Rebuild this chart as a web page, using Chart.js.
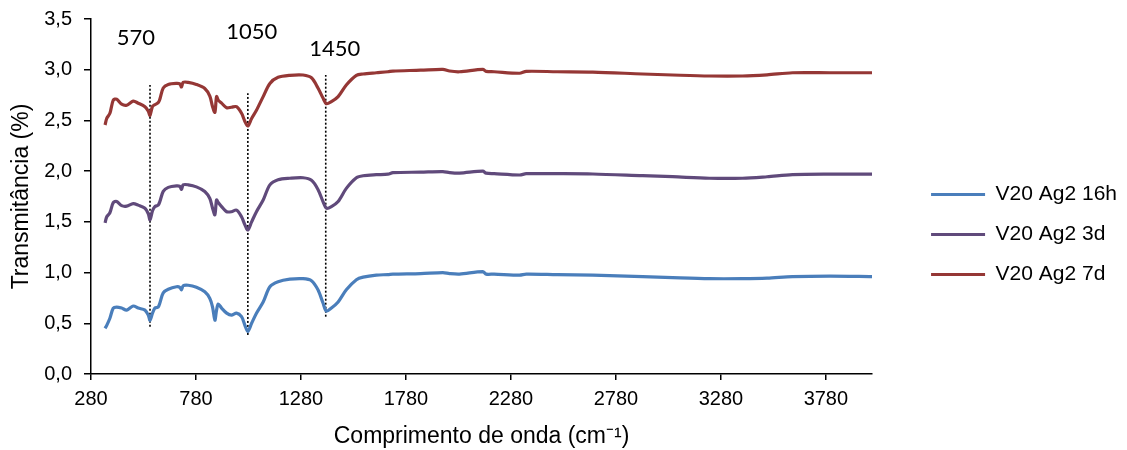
<!DOCTYPE html>
<html>
<head>
<meta charset="utf-8">
<script src="https://cdn.jsdelivr.net/npm/chart.js@4/dist/chart.umd.min.js"></script>
<style>
  body { margin: 0; background: #fff; }
  #wrap { width: 1127px; height: 450px; }
</style>
</head>
<body>
<div id="wrap"><canvas id="ftirChart" width="1127" height="450"></canvas></div>
<script>
// wavenumber (cm-1) shared by the three spectra
const wavenumbers = [347, 355, 370, 386, 402, 426, 450, 481, 505, 537, 553, 561, 573, 584, 600, 608, 624, 648, 687, 703, 711, 719, 743, 782, 822, 846, 859, 870, 878, 886, 902, 926, 949, 973, 997, 1013, 1027, 1045, 1068, 1100, 1132, 1171, 1227, 1290, 1330, 1361, 1385, 1401, 1425, 1457, 1496, 1544, 1576, 1639, 1694, 1718, 1850, 1956, 1988, 2035, 2146, 2162, 2200, 2321, 2353, 2500, 2670, 2907, 3050, 3225, 3383, 3500, 3621, 3800, 4000];

const seriesNames = ['V20 Ag2 16h', 'V20 Ag2 3d', 'V20 Ag2 7d'];

const values16h = [0.45, 0.48, 0.55, 0.65, 0.66, 0.65, 0.63, 0.67, 0.65, 0.63, 0.58, 0.53, 0.60, 0.65, 0.66, 0.70, 0.80, 0.835, 0.86, 0.855, 0.83, 0.87, 0.875, 0.855, 0.81, 0.745, 0.66, 0.53, 0.63, 0.69, 0.65, 0.60, 0.58, 0.60, 0.565, 0.48, 0.42, 0.50, 0.60, 0.71, 0.86, 0.91, 0.935, 0.94, 0.92, 0.83, 0.70, 0.62, 0.65, 0.71, 0.83, 0.93, 0.955, 0.975, 0.98, 0.985, 0.99, 1.0, 0.99, 0.985, 1.01, 0.985, 0.985, 0.975, 0.985, 0.98, 0.975, 0.96, 0.95, 0.94, 0.94, 0.945, 0.96, 0.965, 0.96];

const values3d = [1.49, 1.55, 1.59, 1.69, 1.70, 1.66, 1.655, 1.68, 1.665, 1.635, 1.58, 1.52, 1.61, 1.65, 1.665, 1.70, 1.80, 1.84, 1.855, 1.85, 1.82, 1.865, 1.865, 1.845, 1.80, 1.73, 1.635, 1.57, 1.715, 1.69, 1.65, 1.60, 1.60, 1.615, 1.55, 1.47, 1.42, 1.50, 1.60, 1.715, 1.865, 1.915, 1.93, 1.935, 1.91, 1.82, 1.70, 1.635, 1.65, 1.70, 1.83, 1.935, 1.955, 1.965, 1.97, 1.985, 1.99, 1.995, 1.985, 1.98, 2.0, 1.98, 1.975, 1.962, 1.975, 1.975, 1.972, 1.955, 1.945, 1.93, 1.93, 1.945, 1.965, 1.97, 1.97];

const values7d = [2.455, 2.52, 2.57, 2.70, 2.71, 2.66, 2.65, 2.69, 2.67, 2.635, 2.59, 2.55, 2.64, 2.655, 2.675, 2.71, 2.82, 2.855, 2.865, 2.86, 2.83, 2.875, 2.875, 2.855, 2.815, 2.74, 2.635, 2.58, 2.735, 2.70, 2.67, 2.625, 2.63, 2.635, 2.57, 2.49, 2.445, 2.52, 2.60, 2.735, 2.865, 2.925, 2.945, 2.948, 2.92, 2.82, 2.72, 2.665, 2.685, 2.735, 2.85, 2.945, 2.958, 2.97, 2.98, 2.987, 2.995, 3.004, 2.987, 2.98, 3.004, 2.984, 2.98, 2.965, 2.984, 2.98, 2.977, 2.958, 2.948, 2.938, 2.938, 2.95, 2.97, 2.97, 2.97];

const seriesColors = ['#4a7ebb', '#604a7b', '#953735'];

// marker lines (dotted) and their labels
const peakNames = ['570', '1050', '1450'];
const peakLineX = [561, 1027, 1398];
const peakLineBottom = [0.466, 0.385, 0.565];
const peakLineTop = [2.85, 2.767, 2.948];
const peakLabelX = [494, 1046, 1441];
const peakLabelY = [3.31, 3.376, 3.21];

const xTicks = [280, 780, 1280, 1780, 2280, 2780, 3280, 3780];
const yMin = 0, yMax = 3.5, yStep = 0.5;

const allValues = [values16h, values3d, values7d];

const datasets = allValues.map((vals, i) => ({
    label: seriesNames[i],
    data: wavenumbers.map((w, j) => ({ x: w, y: vals[j] })),
    borderColor: seriesColors[i],
    backgroundColor: seriesColors[i],
    borderWidth: 3.2,
    pointRadius: 0,
    tension: 0.3
}));

peakNames.forEach((name, i) => {
    datasets.push({
        label: 'peak ' + name,
        data: [{ x: peakLineX[i], y: peakLineBottom[i] }, { x: peakLineX[i], y: peakLineTop[i] }],
        borderColor: '#000',
        borderWidth: 1.6,
        borderDash: [2, 2],
        pointRadius: 0
    });
});

// draws the peak numbers above the dotted lines
const peakLabelPlugin = {
    id: 'peakLabels',
    afterDatasetsDraw(chart) {
        const ctx = chart.ctx;
        const xs = chart.scales.x, ys = chart.scales.y;
        ctx.save();
        ctx.fillStyle = '#000';
        ctx.font = '22px Lato';
        ctx.textAlign = 'center';
        ctx.textBaseline = 'middle';
        peakNames.forEach((name, i) => {
            ctx.fillText(name, xs.getPixelForValue(peakLabelX[i]), ys.getPixelForValue(peakLabelY[i]));
        });
        ctx.restore();
    }
};

const tickFont = { family: '"Liberation Sans", Arial, sans-serif', size: 20 };
// small lineHeight only so the y labels don't push the plot top down
const yTickFont = { family: '"Liberation Sans", Arial, sans-serif', size: 20, lineHeight: 0.7 };

new Chart(document.getElementById('ftirChart'), {
    type: 'line',
    data: { datasets: datasets },
    plugins: [peakLabelPlugin],
    options: {
        responsive: false,
        animation: false,
        layout: { padding: { top: 19, left: 0, right: 0, bottom: 0 } },
        scales: {
            x: {
                type: 'linear',
                min: 280,
                max: 4000,
                afterBuildTicks: scale => { scale.ticks = xTicks.map(v => ({ value: v })); },
                afterFit: scale => { scale.height = 76; },
                grid: { drawOnChartArea: false, drawTicks: true, tickLength: 6, color: '#000', lineWidth: 1.5 },
                border: { color: '#000', width: 1.5 },
                ticks: { color: '#000', font: tickFont, padding: 7, maxRotation: 0, autoSkip: false, callback: v => String(v) },
                title: {
                    display: true,
                    text: 'Comprimento de onda (cm\u207B\u00B9)',
                    color: '#000',
                    font: { family: '"Liberation Sans", Arial, sans-serif', size: 23 },
                    padding: { top: 0, bottom: 0 }
                }
            },
            y: {
                min: yMin,
                max: yMax,
                afterFit: scale => { scale.width = 91; },
                grid: { drawOnChartArea: false, drawTicks: true, tickLength: 7, color: '#000', lineWidth: 1.5 },
                border: { color: '#000', width: 1.5 },
                ticks: {
                    stepSize: yStep,
                    color: '#000',
                    font: yTickFont,
                    padding: 12,
                    callback: v => v.toFixed(1).replace('.', ',')
                },
                title: {
                    display: true,
                    text: 'Transmitância (%)',
                    color: '#000',
                    font: { family: '"Liberation Sans", Arial, sans-serif', size: 23 },
                    padding: { top: 8, bottom: 0 }
                }
            },
            gap: {
                type: 'linear',
                position: 'right',
                afterFit: scale => { scale.width = 40; },
                grid: { display: false, drawTicks: false },
                border: { display: false },
                ticks: { display: false }
            }
        },
        plugins: {
            legend: {
                position: 'right',
                maxWidth: 400,
                labels: {
                    filter: item => item.datasetIndex < 3,
                    usePointStyle: true,
                    pointStyle: 'line',
                    pointStyleWidth: 54,
                    color: '#000',
                    font: { family: '"Liberation Sans", Arial, sans-serif', size: 21 },
                    padding: 19
                }
            },
            tooltip: { enabled: false }
        }
    }
});
</script>
</body>
</html>
